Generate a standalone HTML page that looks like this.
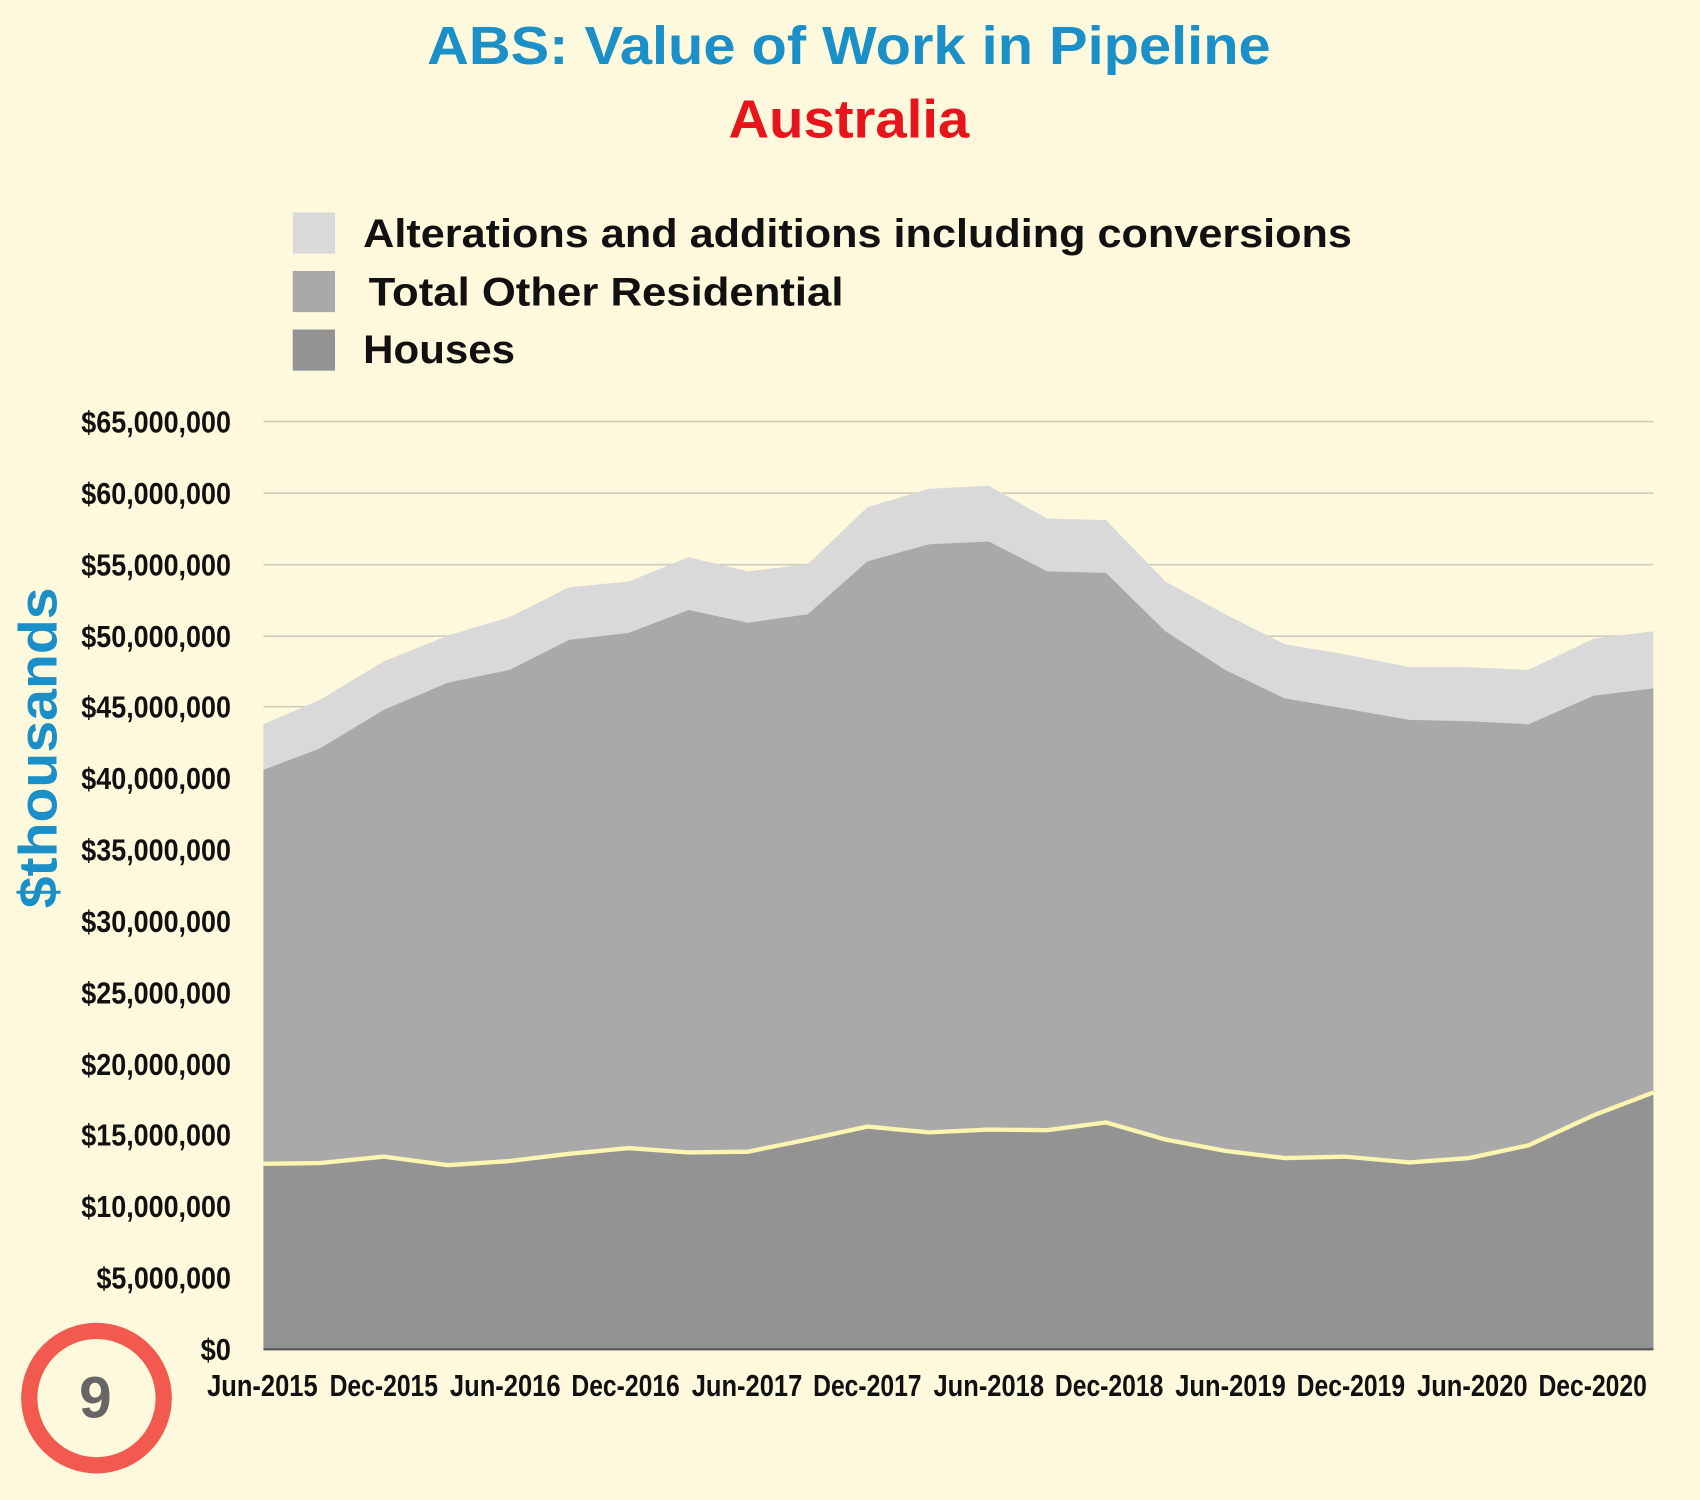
<!DOCTYPE html>
<html><head><meta charset="utf-8"><style>
html,body{margin:0;padding:0;background:#fef8dc;}
svg{display:block;}
text{font-family:"Liberation Sans",sans-serif;}
.t{font-family:"Liberation Sans Narrow","Liberation Sans",sans-serif;font-weight:bold;font-size:28px;fill:#111;}
.lg{font-weight:bold;font-size:37px;fill:#111;}
</style></head><body>
<svg width="1700" height="1500" viewBox="0 0 1568 1384" preserveAspectRatio="none" xmlns="http://www.w3.org/2000/svg">
<rect width="1568" height="1384" fill="#fef8dc"/>
<text x="783" y="59" text-anchor="middle" font-size="50" font-weight="bold" fill="#1a8fc8" textLength="778" lengthAdjust="spacingAndGlyphs">ABS: Value of Work in Pipeline</text>
<text x="783" y="127" text-anchor="middle" font-size="50" font-weight="bold" fill="#e8141c" textLength="222" lengthAdjust="spacingAndGlyphs">Australia</text>
<rect x="270" y="196" width="39" height="38" fill="#d9d9d9"/>
<rect x="270" y="250" width="39" height="38" fill="#a9a9a9"/>
<rect x="270" y="304" width="39" height="38" fill="#939393"/>
<text class="lg" x="335" y="228" textLength="912" lengthAdjust="spacingAndGlyphs">Alterations and additions including conversions</text>
<text class="lg" x="340" y="282" textLength="438" lengthAdjust="spacingAndGlyphs">Total Other Residential</text>
<text class="lg" x="335" y="335" textLength="140" lengthAdjust="spacingAndGlyphs">Houses</text>
<text x="52" y="690" font-size="50" font-weight="bold" fill="#1a8fc8" text-anchor="middle" transform="rotate(-90 52 690)" textLength="296" lengthAdjust="spacingAndGlyphs">$thousands</text>
<g stroke="#d0ccbc" stroke-width="1.5">
<line x1="243" x2="1525" y1="389" y2="389"/><line x1="243" x2="1525" y1="455" y2="455"/><line x1="243" x2="1525" y1="521" y2="521"/><line x1="243" x2="1525" y1="587" y2="587"/><line x1="243" x2="1525" y1="652" y2="652"/><line x1="243" x2="1525" y1="718" y2="718"/><line x1="243" x2="1525" y1="784" y2="784"/><line x1="243" x2="1525" y1="850" y2="850"/><line x1="243" x2="1525" y1="916" y2="916"/><line x1="243" x2="1525" y1="982" y2="982"/><line x1="243" x2="1525" y1="1047" y2="1047"/><line x1="243" x2="1525" y1="1113" y2="1113"/><line x1="243" x2="1525" y1="1179" y2="1179"/>
</g>
<polygon fill="#d9d9d9" points="243,1245 243,668.2 295,645.8 354,610.2 413,586.5 470,569.4 525,541.7 580,536.5 635,514.1 690,527.2 745,520.6 800,468 857,450.9 912,448.2 966,478.5 1020,479.8 1075,536.5 1130,566.7 1185,594.4 1240,603.6 1300,615.5 1355,615.5 1410,618.1 1470,589.1 1525,582.5 1525,1245"/>
<polygon fill="#a9a9a9" points="243,1245 243,710.3 295,690.6 354,655 413,630 470,618.1 525,590.4 580,583.9 635,562.8 690,574.6 745,566.7 800,518 857,502.2 912,499.6 966,527.2 1020,528.6 1075,582.5 1130,618.1 1185,644.4 1240,653.7 1300,664.2 1355,665.5 1410,668.2 1470,641.8 1525,635.2 1525,1245"/>
<polygon fill="#939393" points="243,1245 243,1073.8 295,1073.1 354,1067.2 413,1075.1 470,1071.2 525,1064.6 580,1059.3 635,1063.3 690,1062.6 745,1051.4 800,1039.5 857,1044.8 912,1042.2 966,1042.8 1020,1035.6 1075,1051.4 1130,1061.9 1185,1068.5 1240,1067.2 1300,1072.5 1355,1068.5 1410,1056.7 1470,1029 1525,1007.9 1525,1245"/>
<polyline fill="none" stroke="#fbf5b0" stroke-width="4" points="243,1073.8 295,1073.1 354,1067.2 413,1075.1 470,1071.2 525,1064.6 580,1059.3 635,1063.3 690,1062.6 745,1051.4 800,1039.5 857,1044.8 912,1042.2 966,1042.8 1020,1035.6 1075,1051.4 1130,1061.9 1185,1068.5 1240,1067.2 1300,1072.5 1355,1068.5 1410,1056.7 1470,1029 1525,1007.9"/>
<line x1="243" x2="1525" y1="1245" y2="1245" stroke="#555" stroke-width="2"/>
<g>
<text class="t" x="213" y="399" text-anchor="end" textLength="138" lengthAdjust="spacingAndGlyphs">$65,000,000</text>
<text class="t" x="213" y="465" text-anchor="end" textLength="138" lengthAdjust="spacingAndGlyphs">$60,000,000</text>
<text class="t" x="213" y="531" text-anchor="end" textLength="138" lengthAdjust="spacingAndGlyphs">$55,000,000</text>
<text class="t" x="213" y="597" text-anchor="end" textLength="138" lengthAdjust="spacingAndGlyphs">$50,000,000</text>
<text class="t" x="213" y="662" text-anchor="end" textLength="138" lengthAdjust="spacingAndGlyphs">$45,000,000</text>
<text class="t" x="213" y="728" text-anchor="end" textLength="138" lengthAdjust="spacingAndGlyphs">$40,000,000</text>
<text class="t" x="213" y="794" text-anchor="end" textLength="138" lengthAdjust="spacingAndGlyphs">$35,000,000</text>
<text class="t" x="213" y="860" text-anchor="end" textLength="138" lengthAdjust="spacingAndGlyphs">$30,000,000</text>
<text class="t" x="213" y="926" text-anchor="end" textLength="138" lengthAdjust="spacingAndGlyphs">$25,000,000</text>
<text class="t" x="213" y="992" text-anchor="end" textLength="138" lengthAdjust="spacingAndGlyphs">$20,000,000</text>
<text class="t" x="213" y="1057" text-anchor="end" textLength="138" lengthAdjust="spacingAndGlyphs">$15,000,000</text>
<text class="t" x="213" y="1123" text-anchor="end" textLength="138" lengthAdjust="spacingAndGlyphs">$10,000,000</text>
<text class="t" x="213" y="1189" text-anchor="end" textLength="124" lengthAdjust="spacingAndGlyphs">$5,000,000</text>
<text class="t" x="213" y="1255" text-anchor="end" textLength="28" lengthAdjust="spacingAndGlyphs">$0</text>
</g>
<g>
<text class="t" x="242" y="1288" text-anchor="middle" textLength="102" lengthAdjust="spacingAndGlyphs">Jun-2015</text>
<text class="t" x="354" y="1288" text-anchor="middle" textLength="100" lengthAdjust="spacingAndGlyphs">Dec-2015</text>
<text class="t" x="466" y="1288" text-anchor="middle" textLength="102" lengthAdjust="spacingAndGlyphs">Jun-2016</text>
<text class="t" x="577" y="1288" text-anchor="middle" textLength="100" lengthAdjust="spacingAndGlyphs">Dec-2016</text>
<text class="t" x="689" y="1288" text-anchor="middle" textLength="102" lengthAdjust="spacingAndGlyphs">Jun-2017</text>
<text class="t" x="800" y="1288" text-anchor="middle" textLength="100" lengthAdjust="spacingAndGlyphs">Dec-2017</text>
<text class="t" x="912" y="1288" text-anchor="middle" textLength="102" lengthAdjust="spacingAndGlyphs">Jun-2018</text>
<text class="t" x="1023" y="1288" text-anchor="middle" textLength="100" lengthAdjust="spacingAndGlyphs">Dec-2018</text>
<text class="t" x="1135" y="1288" text-anchor="middle" textLength="102" lengthAdjust="spacingAndGlyphs">Jun-2019</text>
<text class="t" x="1246" y="1288" text-anchor="middle" textLength="100" lengthAdjust="spacingAndGlyphs">Dec-2019</text>
<text class="t" x="1358" y="1288" text-anchor="middle" textLength="102" lengthAdjust="spacingAndGlyphs">Jun-2020</text>
<text class="t" x="1469" y="1288" text-anchor="middle" textLength="100" lengthAdjust="spacingAndGlyphs">Dec-2020</text>
</g>
<circle cx="89" cy="1290" r="62" fill="none" stroke="#f25a50" stroke-width="15"/>
<text x="88" y="1308" text-anchor="middle" font-size="54" font-weight="bold" fill="#666">9</text>
</svg>
</body></html>
